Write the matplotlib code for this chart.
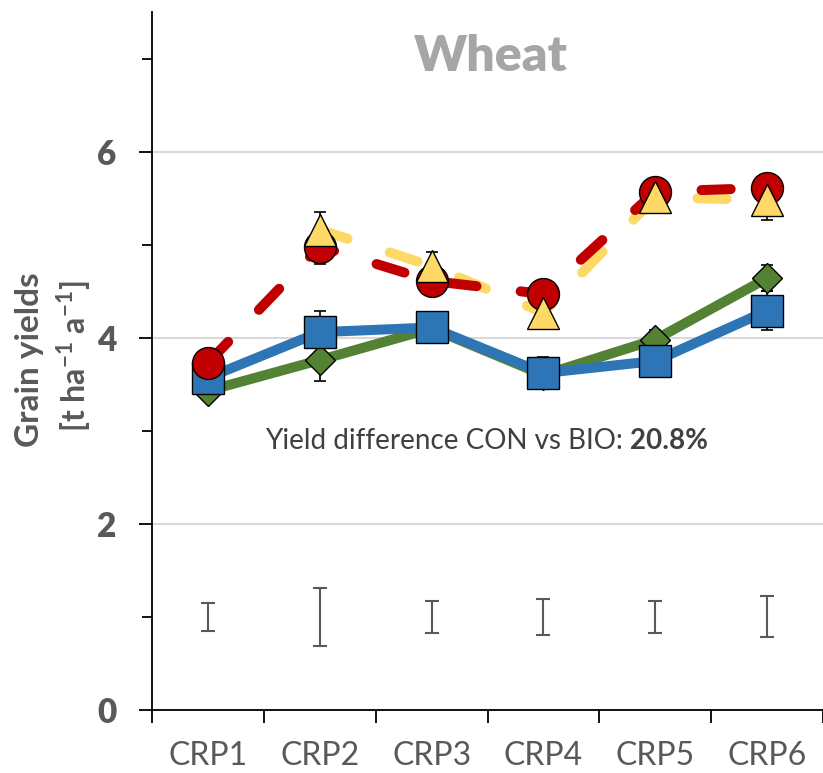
import matplotlib.pyplot as plt
import numpy as np

plt.rcParams['font.family'] = ['Lato', 'DejaVu Sans']
plt.rcParams['mathtext.fontset'] = 'custom'
plt.rcParams['mathtext.rm'] = 'Lato'
plt.rcParams['mathtext.bf'] = 'Lato:bold'
plt.rcParams['lines.scale_dashes'] = False

crops = ['CRP1', 'CRP2', 'CRP3', 'CRP4', 'CRP5', 'CRP6']

# mean grain yields [t ha-1 a-1] and their errors per treatment
red_mean = [3.73, 4.98, 4.61, 4.47, 5.57, 5.61]
red_err = [0.10, 0.19, 0.10, 0.10, 0.10, 0.10]
yellow_mean = [np.nan, 5.16, 4.77, 4.27, 5.51, 5.48]
yellow_err = [0.0, 0.19, 0.15, 0.10, 0.10, 0.21]
green_mean = [3.43, 3.76, 4.10, 3.60, 3.98, 4.64]
green_err = [0.10, 0.22, 0.10, 0.10, 0.10, 0.14]
blue_mean = [3.57, 4.06, 4.11, 3.62, 3.75, 4.29]
blue_err = [0.10, 0.23, 0.17, 0.17, 0.10, 0.21]

# LSD bars shown near the bottom of the plot
lsd_center = [1.0, 1.0, 1.0, 1.0, 1.0, 1.0]
lsd_half = [0.15, 0.31, 0.17, 0.19, 0.17, 0.22]

yield_diff = 20.8

RED = '#C00000'
YELLOW = '#FFD966'
GREEN = '#548235'
BLUE = '#2E75B6'
GREY = '#595959'

fig = plt.figure(figsize=(8.23, 7.73), dpi=100)
ax = fig.add_axes([152 / 823, 63 / 773, 671 / 823, 698 / 773])
x = np.arange(1, len(crops) + 1)

# lines
ax.plot(x, green_mean, color=GREEN, lw=7.2, solid_capstyle='round', zorder=2)
ax.plot(x, blue_mean, color=BLUE, lw=7.2, solid_capstyle='round', zorder=2.1)
ax.plot(x, yellow_mean, color=YELLOW, lw=7.2, dashes=(21, 32),
        dash_capstyle='round', zorder=2.2)
ax.plot(x, red_mean, color=RED, lw=7.2, dashes=(21, 32),
        dash_capstyle='round', zorder=2.3)

# error bars
for m, e in [(green_mean, green_err), (blue_mean, blue_err),
             (red_mean, red_err), (yellow_mean, yellow_err)]:
    ax.errorbar(x, m, yerr=e, fmt='none', ecolor='black', elinewidth=1.2,
                capsize=4, capthick=1.2, zorder=4)

# markers
mk = dict(linestyle='none', mec='black', mew=1.0)
ax.plot(x, green_mean, marker='D', ms=15.5, mfc=GREEN, zorder=5, **mk)
ax.plot(x, blue_mean, marker='s', ms=23, mfc=BLUE, zorder=6, **mk)
ax.plot(x, red_mean, marker='o', ms=23, mfc=RED, zorder=7, **mk)
ax.plot(x, yellow_mean, marker='^', ms=23, mfc=YELLOW, zorder=8, **mk)

# LSD bars
ax.errorbar(x, lsd_center, yerr=lsd_half, fmt='none', ecolor=GREY,
            elinewidth=1.5, capsize=4.7, capthick=1.5, zorder=3)

# axes styling
ax.set_xlim(0.5, 6.5)
ax.set_ylim(0, 7.5)
for s in ['top', 'right']:
    ax.spines[s].set_visible(False)
for s in ['left', 'bottom']:
    ax.spines[s].set_linewidth(1.3)
    ax.spines[s].set_color('black')

ax.set_yticks([0, 2, 4, 6])
ax.set_yticks([1, 3, 5, 7], minor=True)
ax.tick_params(axis='y', which='major', length=9.5, width=1.3, pad=16,
               labelsize=24, labelcolor=GREY)
ax.tick_params(axis='y', which='minor', length=7, width=1.3)
for lab in ax.get_yticklabels():
    lab.set_fontweight('heavy')

ax.set_xticks(np.arange(0.5, 7, 1))
ax.set_xticklabels([])
ax.set_xticks(x, minor=True)
ax.set_xticklabels(crops, minor=True)
ax.tick_params(axis='x', which='major', length=9, width=1.3)
ax.tick_params(axis='x', which='minor', length=0, pad=22, labelsize=23,
               labelcolor=GREY)

ax.grid(axis='y', which='major', color='#D9D9D9', lw=1.5, zorder=0)
ax.set_axisbelow(True)

ax.text(3.53, 7.02, 'Wheat', ha='center', va='center', fontsize=36,
        fontweight='heavy', color='#A6A6A6')

t1 = ax.text(1.51, 2.89, 'Yield difference CON vs BIO: ', ha='left',
             va='center', fontsize=20, color='#404040')
ax.annotate(f'{yield_diff}%', xy=(1, 0), xycoords=t1, ha='left', va='bottom',
            fontsize=20, fontweight='bold', color='#404040')

fig.text(30 / 823, 1 - 360 / 773, 'Grain yields', rotation=90, ha='center',
         va='center', fontsize=24, fontweight='bold', color=GREY)
fig.text(74 / 823, 1 - 356 / 773, r'[t ha$^{\mathbf{-1}}$ a$^{\mathbf{-1}}$]',
         rotation=90, ha='center', va='center', fontsize=23,
         fontweight='bold', color=GREY)

fig.savefig('out.png', dpi=100)
